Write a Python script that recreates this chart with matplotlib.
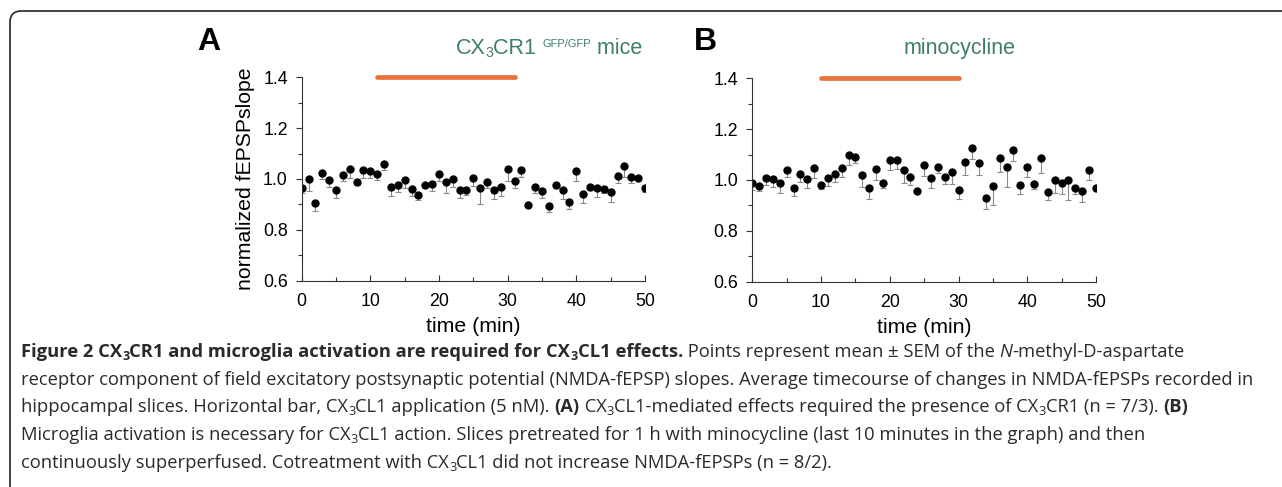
import numpy as np
import matplotlib
matplotlib.use("Agg")
import matplotlib.pyplot as plt
from matplotlib.patches import FancyBboxPatch
from matplotlib.transforms import IdentityTransform

# time axis (min)
t = np.arange(0, 51)

# panel A: CX3CR1 GFP/GFP mice
a_mean = [0.963, 1.000, 0.904, 1.024, 0.995, 0.958, 1.014, 1.041, 0.988, 1.035,
          1.030, 1.021, 1.058, 0.970, 0.978, 0.996, 0.961, 0.936, 0.976, 0.979,
          1.018, 0.988, 1.000, 0.955, 0.957, 1.004, 0.966, 0.988, 0.958, 0.969,
          1.039, 0.993, 1.034, 0.898, 0.970, 0.953, 0.895, 0.975, 0.957, 0.911,
          1.031, 0.940, 0.970, 0.966, 0.959, 0.949, 1.013, 1.051, 1.008, 1.004,
          0.966]
a_sem = [0.020, 0.047, 0.029, 0.024, 0.025, 0.031, 0.021, 0.038, 0.010, 0.033,
         0.028, 0.025, 0.022, 0.037, 0.030, 0.033, 0.028, 0.018, 0.013, 0.026,
         0.025, 0.045, 0.030, 0.028, 0.020, 0.031, 0.066, 0.022, 0.038, 0.035,
         0.047, 0.030, 0.025, 0.000, 0.024, 0.026, 0.025, 0.012, 0.037, 0.030,
         0.038, 0.035, 0.013, 0.035, 0.013, 0.039, 0.030, 0.042, 0.025, 0.005,
         0.016]

# panel B: minocycline
b_mean = [0.987, 0.976, 1.009, 1.003, 0.987, 1.039, 0.967, 1.024, 1.004, 1.046,
          0.982, 1.009, 1.022, 1.049, 1.098, 1.090, 1.020, 0.967, 1.042, 0.988,
          1.077, 1.079, 1.038, 1.012, 0.955, 1.060, 1.007, 1.052, 1.010, 1.030,
          0.962, 1.072, 1.125, 1.068, 0.930, 0.978, 1.088, 1.050, 1.117, 0.980,
          1.051, 0.983, 1.087, 0.951, 1.001, 0.987, 0.999, 0.970, 0.958, 1.041,
          0.967]
b_sem = [0.026, 0.020, 0.029, 0.029, 0.037, 0.026, 0.028, 0.033, 0.034, 0.039,
         0.018, 0.033, 0.030, 0.039, 0.039, 0.025, 0.046, 0.042, 0.042, 0.018,
         0.038, 0.037, 0.049, 0.031, 0.000, 0.043, 0.039, 0.026, 0.026, 0.047,
         0.037, 0.052, 0.042, 0.049, 0.045, 0.077, 0.055, 0.076, 0.042, 0.037,
         0.038, 0.020, 0.060, 0.030, 0.054, 0.042, 0.077, 0.026, 0.043, 0.041,
         0.000]

# CX3CL1 application windows (min)
a_bar = [11, 31]
b_bar = [10, 30]

W, H = 1282, 487
TEAL = "#3f7d6d"
ORANGE = "#e8743b"

plt.rcParams["font.family"] = ["Liberation Sans", "DejaVu Sans"]

fig = plt.figure(figsize=(W / 100, H / 100), dpi=100)
renderer = fig.canvas.get_renderer()

# rounded frame (open at right / bottom like the page crop)
frame = FancyBboxPatch((10, -30), 1320, H - 11 + 30,
                       boxstyle="round,pad=0,rounding_size=11",
                       transform=IdentityTransform(), fill=False,
                       edgecolor="#333333", linewidth=1.3)
fig.add_artist(frame)


def seg_width(s, kw):
    tmp = fig.text(0, 0, "|" + s + "|", transform=IdentityTransform(), **kw)
    w1 = tmp.get_window_extent(renderer).width
    tmp.set_text("||")
    w2 = tmp.get_window_extent(renderer).width
    tmp.remove()
    return w1 - w2


def put_line(x, y, segs, align="left"):
    # x, y in pixels from the top-left; y is the baseline
    clean = []
    for s, kw in segs:
        kw = dict(kw)
        dy = kw.pop("dy", 0)
        clean.append((s, kw, dy, seg_width(s, kw)))
    total = sum(c[3] for c in clean)
    if align == "right":
        x -= total
    elif align == "center":
        x -= total / 2
    for s, kw, dy, w in clean:
        fig.text(x, H - y + dy, s, transform=IdentityTransform(),
                 va="baseline", ha="left", **kw)
        x += w


def draw_panel(rect, mean, sem, bar):
    ax = fig.add_axes(rect)
    ax.errorbar(t, mean, yerr=[sem, np.zeros(len(sem))], fmt="o", color="black",
                ms=5.0, ecolor="#8a8a8a", elinewidth=0.8, capsize=2.4, capthick=0.8)
    ax.plot(bar, [1.4, 1.4], color=ORANGE, lw=3.4, solid_capstyle="round",
            clip_on=False, zorder=5)
    ax.set_xlim(0, 50)
    ax.set_ylim(0.6, 1.4)
    ax.set_xticks(np.arange(0, 51, 10))
    ax.set_xticks(np.arange(5, 50, 10), minor=True)
    ax.set_yticks(np.arange(0.6, 1.41, 0.2))
    ax.set_yticks(np.arange(0.7, 1.4, 0.2), minor=True)
    ax.set_yticklabels(["0.6", "0.8", "1.0", "1.2", "1.4"])
    for s in ["top", "right"]:
        ax.spines[s].set_visible(False)
    for s in ["left", "bottom"]:
        ax.spines[s].set_color("#333333")
        ax.spines[s].set_linewidth(0.8)
    ax.tick_params(axis="x", which="both", direction="in", pad=9, labelsize=12.8,
                   color="#333333")
    ax.tick_params(axis="y", which="both", direction="out", pad=6, labelsize=12.8,
                   color="#333333")
    ax.tick_params(which="major", length=4, width=0.8)
    ax.tick_params(which="minor", length=3, width=0.8)
    ax.set_xlabel("time (min)", fontsize=15.3, labelpad=5)
    return ax


axA = draw_panel([0.2353, 0.4236, 0.2678, 0.4177], a_mean, a_sem, a_bar)
axA.set_ylabel("normalized fEPSPslope", fontsize=15.3, labelpad=6)
axB = draw_panel([0.5868, 0.4216, 0.2681, 0.4176], b_mean, b_sem, b_bar)

# panel letters and titles
fig.text(209, H - 50, "A", transform=IdentityTransform(), ha="center",
         va="baseline", fontsize=23, fontweight="bold")
fig.text(705, H - 50, "B", transform=IdentityTransform(), ha="center",
         va="baseline", fontsize=23, fontweight="bold")

tt = dict(fontsize=15.5, color=TEAL)
sub_t = dict(fontsize=10, color=TEAL, dy=-3)
sup_t = dict(fontsize=8, color=TEAL, dy=7)
put_line(642, 54, [("CX", tt), ("3", sub_t), ("CR1 ", tt), ("GFP/GFP", sup_t),
                   (" mice", tt)], align="right")
put_line(960, 54, [("minocycline", tt)], align="center")

# caption
cf = ["Open Sans", "DejaVu Sans"]
rg = dict(fontsize=13.25, family=cf, color="#2a2a2a")
bd = dict(rg, fontweight="bold")
it = dict(rg, fontstyle="italic")
sb = dict(rg, fontsize=9.2, dy=-3)
sbb = dict(sb, fontweight="bold")

cap_lines = [
    [("Figure 2 CX", bd), ("3", sbb), ("CR1 and microglia activation are required for CX", bd),
     ("3", sbb), ("CL1 effects.", bd), (" Points represent mean \u00b1 SEM of the ", rg),
     ("N", it), ("-methyl-D-aspartate", rg)],
    [("receptor component of field excitatory postsynaptic potential (NMDA-fEPSP) slopes. "
      "Average timecourse of changes in NMDA-fEPSPs recorded in", rg)],
    [("hippocampal slices. Horizontal bar, CX", rg), ("3", sb),
     ("CL1 application (5 nM). ", rg), ("(A)", bd), (" CX", rg), ("3", sb),
     ("CL1-mediated effects required the presence of CX", rg), ("3", sb),
     ("CR1 (n = 7/3). ", rg), ("(B)", bd)],
    [("Microglia activation is necessary for CX", rg), ("3", sb),
     ("CL1 action. Slices pretreated for 1 h with minocycline (last 10 minutes in the graph) and then", rg)],
    [("continuously superperfused. Cotreatment with CX", rg), ("3", sb),
     ("CL1 did not increase NMDA-fEPSPs (n = 8/2).", rg)],
]
for i, segs in enumerate(cap_lines):
    put_line(21, 357 + 27.7 * i, segs)

fig.savefig("out.png", dpi=100)
